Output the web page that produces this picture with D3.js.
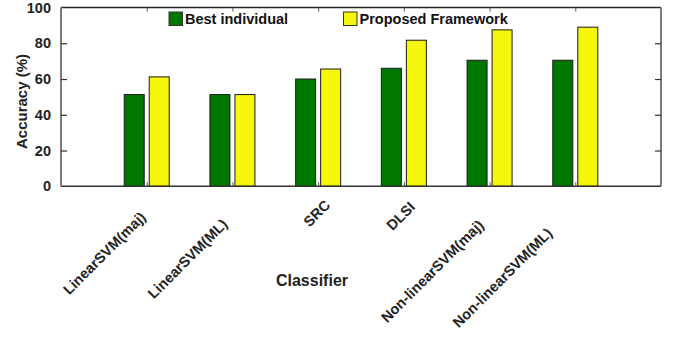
<!DOCTYPE html>
<html>
<head>
<meta charset="utf-8">
<script src="https://cdn.jsdelivr.net/npm/d3@7"></script>
<style>
  html, body { margin: 0; padding: 0; background: #fff; }
  svg { display: block; font-family: "Liberation Sans", Arial, Helvetica, sans-serif; font-weight: bold; }
</style>
</head>
<body>
<svg id="chart" width="673" height="337"></svg>
<script>
// Classifiers compared
const classifiers = ["LinearSVM(maj)", "LinearSVM(ML)", "SRC", "DLSI", "Non-linearSVM(maj)", "Non-linearSVM(ML)"];
// Accuracy (%) per classifier
const bestIndividual = [51.3, 51.3, 60.0, 66.0, 70.5, 70.5];
const proposedFramework = [61.2, 51.3, 65.6, 81.7, 87.5, 89.0];
const seriesNames = ["Best individual", "Proposed Framework"];
const yTicks = [0, 20, 40, 60, 80, 100];

// Layout
const W = 673, H = 337;
const plot = { left: 61, right: 661, top: 7.5, bottom: 186.3 };
const colors = { "Best individual": "#007800", "Proposed Framework": "#f6f60c" };
// hand-placed anchors of the rotated classifier labels: [dx from group centre, y]
const labelAnchors = [[0, 218], [-4, 225], [13, 206], [12, 208], [-5, 226], [-22, 234]];

const svg = d3.select("#chart");

const x = d3.scaleLinear().domain([0, classifiers.length + 1]).range([plot.left, plot.right]);
const y = d3.scaleLinear().domain([0, 100]).range([plot.bottom, plot.top]);
const xInner = d3.scaleBand().domain(seriesNames).range([-22.5, 22.5]).paddingInner(0.2);

const rows = classifiers.map((c, i) => ({
  name: c, pos: i + 1,
  values: [
    { key: seriesNames[0], value: bestIndividual[i] },
    { key: seriesNames[1], value: proposedFramework[i] }
  ]
}));

// Bars
const g = svg.append("g");
g.selectAll("g.group").data(rows).join("g")
  .attr("class", "group")
  .attr("transform", d => `translate(${x(d.pos)},0)`)
  .selectAll("rect").data(d => d.values).join("rect")
  .attr("x", d => xInner(d.key))
  .attr("width", xInner.bandwidth())
  .attr("y", d => y(d.value))
  .attr("height", d => y(0) - y(d.value))
  .attr("fill", d => colors[d.key])
  .attr("stroke", "#1a1a1a")
  .attr("stroke-width", 1);

// Frame
const frame = svg.append("g");
frame.append("line").attr("x1", plot.left).attr("x2", plot.right).attr("y1", plot.top).attr("y2", plot.top)
  .attr("stroke", "#262626").attr("stroke-width", 1.5);
frame.append("line").attr("x1", plot.left).attr("x2", plot.right).attr("y1", plot.bottom).attr("y2", plot.bottom)
  .attr("stroke", "#333").attr("stroke-width", 1.5);
frame.append("line").attr("x1", plot.left).attr("x2", plot.left).attr("y1", plot.top).attr("y2", plot.bottom)
  .attr("stroke", "#7a7a7a").attr("stroke-width", 2);
frame.append("line").attr("x1", plot.right).attr("x2", plot.right).attr("y1", plot.top).attr("y2", plot.bottom)
  .attr("stroke", "#7a7a7a").attr("stroke-width", 2);

// Y axis (left labels, inward ticks on both sides)
const yAxis = d3.axisLeft(y).tickValues(yTicks).tickSize(-6).tickPadding(10).tickFormat(d3.format("d"));
const yg = svg.append("g").attr("transform", `translate(${plot.left},0)`).call(yAxis);
yg.select(".domain").remove();
yg.selectAll(".tick line").attr("stroke", "#333").attr("stroke-width", 1.2)
  .filter(d => d === 0 || d === 100).remove();
yg.selectAll(".tick text").attr("fill", "#222").style("font-size", "14.5px").style("font-weight", "bold")
  .style("font-family", "'Liberation Sans', Arial, sans-serif");

const yRight = d3.axisRight(y).tickValues(yTicks.filter(d => d > 0 && d < 100)).tickSize(-6).tickFormat("");
const yrg = svg.append("g").attr("transform", `translate(${plot.right},0)`).call(yRight);
yrg.select(".domain").remove();
yrg.selectAll(".tick line").attr("stroke", "#333").attr("stroke-width", 1.2);

// X ticks at group centres, inward from top and bottom
const xTop = d3.axisTop(x).tickValues(rows.map(d => d.pos)).tickSize(-4).tickFormat("");
const xtg = svg.append("g").attr("transform", `translate(0,${plot.top})`).call(xTop);
xtg.select(".domain").remove();
xtg.selectAll(".tick line").attr("stroke", "#555");
const xBottom = d3.axisBottom(x).tickValues(rows.map(d => d.pos)).tickSize(-4).tickFormat("");
const xbg = svg.append("g").attr("transform", `translate(0,${plot.bottom})`).call(xBottom);
xbg.select(".domain").remove();
xbg.selectAll(".tick line").attr("stroke", "#555");

// Rotated classifier labels
svg.append("g").selectAll("text").data(rows).join("text")
  .attr("transform", (d, i) => `translate(${x(d.pos) + labelAnchors[i][0]},${labelAnchors[i][1]}) rotate(-45)`)
  .attr("text-anchor", "end")
  .attr("fill", "#222")
  .style("font-size", "14.5px")
  .text(d => d.name);

// Axis titles
svg.append("text")
  .attr("transform", `translate(27,101.5) rotate(-90)`)
  .attr("text-anchor", "middle")
  .attr("fill", "#222")
  .style("font-size", "15px")
  .text("Accuracy (%)");
svg.append("text")
  .attr("x", 312).attr("y", 286)
  .attr("text-anchor", "middle")
  .attr("fill", "#222")
  .style("font-size", "16px")
  .text("Classifier");

// Legend
const legendX = [169, 343.5];
const lg = svg.append("g").selectAll("g").data(seriesNames).join("g")
  .attr("transform", (d, i) => `translate(${legendX[i]},12)`);
lg.append("rect").attr("width", 13.5).attr("height", 13.5)
  .attr("fill", d => colors[d]).attr("stroke", "#333").attr("stroke-width", 1);
lg.append("text").attr("x", 16).attr("y", 12.2)
  .attr("fill", "#111")
  .style("font-size", "14.5px")
  .text(d => d);
</script>
</body>
</html>
